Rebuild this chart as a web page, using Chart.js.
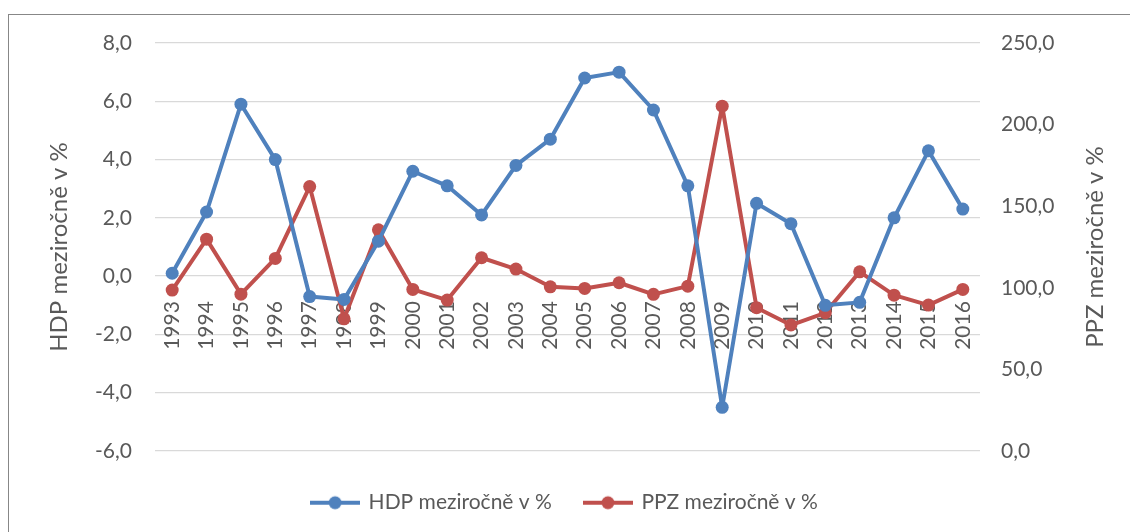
<!DOCTYPE html>
<html>
<head>
<meta charset="utf-8">
<script src="https://cdn.jsdelivr.net/npm/chart.js@4.4.1/dist/chart.umd.min.js"></script>
<style>
  html, body { margin: 0; padding: 0; background: #ffffff; }
  #wrap { position: relative; width: 1130px; height: 532px; overflow: hidden; }
  #frame { position: absolute; left: 8px; top: 14px; width: 1200px; height: 600px; border: 1.5px solid #878787; box-sizing: border-box; }
  #c { position: absolute; left: 0; top: 0; }
</style>
</head>
<body>
<div id="wrap">
  <div id="frame"></div>
  <canvas id="c" width="1130" height="532"></canvas>
</div>
<script>
const years = ['1993','1994','1995','1996','1997','1998','1999','2000','2001','2002','2003','2004','2005','2006','2007','2008','2009','2010','2011','2012','2013','2014','2015','2016'];
const hdpValues = [0.1, 2.2, 5.9, 4.0, -0.7, -0.8, 1.2, 3.6, 3.1, 2.1, 3.8, 4.7, 6.8, 7.0, 5.7, 3.1, -4.5, 2.5, 1.8, -1.0, -0.9, 2.0, 4.3, 2.3];
const ppzValues = [98.6, 129.8, 96.1, 118.0, 162.0, 81.0, 135.5, 99.0, 92.5, 118.4, 111.5, 100.6, 99.6, 103.1, 96.0, 101.0, 211.3, 87.8, 77.2, 84.7, 109.8, 95.5, 89.4, 99.0];
const leftTickLabels = ['-6,0', '-4,0', '-2,0', '0,0', '2,0', '4,0', '6,0', '8,0'];
const rightTickLabels = ['0,0', '50,0', '100,0', '150,0', '200,0', '250,0'];
const seriesNames = ['HDP meziročně v %', 'PPZ meziročně v %'];
const leftTitle = 'HDP meziročně v %';
const rightTitle = 'PPZ meziročně v %';

const BLUE = '#4F81BD';
const RED = '#C0504D';
const TXT = '#595959';
const FONT = 'Lato, "Open Sans", sans-serif';

function markerCanvas(color) {
  const cv = document.createElement('canvas');
  cv.width = 50; cv.height = 16;
  const g = cv.getContext('2d');
  g.strokeStyle = color; g.lineWidth = 4;
  g.beginPath(); g.moveTo(0, 8); g.lineTo(50, 8); g.stroke();
  g.fillStyle = color;
  g.beginPath(); g.arc(25, 8, 6.5, 0, Math.PI * 2); g.fill();
  return cv;
}
const markers = [markerCanvas(BLUE), markerCanvas(RED)];

const titlesPlugin = {
  id: 'axisTitles',
  beforeLayout(chart) {
    const lg = chart.legend;
    if (lg && !lg._patchedFit) {
      const f = lg.fit;
      lg.fit = function () { f.call(this); this.height = 81; };
      lg._patchedFit = true;
    }
  },
  afterDraw(chart) {
    const ctx = chart.ctx;
    const ca = chart.chartArea;
    const cy = (ca.top + ca.bottom) / 2;
    ctx.save();
    ctx.fillStyle = TXT;
    ctx.font = '24px ' + FONT;
    ctx.textAlign = 'center';
    ctx.textBaseline = 'middle';
    [[59, leftTitle], [1095, rightTitle]].forEach(([x, t]) => {
      ctx.save();
      ctx.translate(x, cy);
      ctx.rotate(-Math.PI / 2);
      ctx.fillText(t, 0, 0);
      ctx.restore();
    });
    ctx.restore();
  }
};

new Chart(document.getElementById('c'), {
  type: 'line',
  data: {
    labels: years,
    datasets: [
      {
        label: seriesNames[0], data: hdpValues, yAxisID: 'y',
        borderColor: BLUE, backgroundColor: BLUE, borderWidth: 4,
        pointRadius: 6.5, pointHoverRadius: 6.5, pointBorderWidth: 0,
        pointBackgroundColor: BLUE, tension: 0, borderJoinStyle: 'round', borderCapStyle: 'round'
      },
      {
        label: seriesNames[1], data: ppzValues, yAxisID: 'y1',
        borderColor: RED, backgroundColor: RED, borderWidth: 4,
        pointRadius: 6.5, pointHoverRadius: 6.5, pointBorderWidth: 0,
        pointBackgroundColor: RED, tension: 0, borderJoinStyle: 'round', borderCapStyle: 'round'
      }
    ]
  },
  options: {
    responsive: false,
    animation: false,
    events: [],
    layout: { padding: { top: 43, bottom: 0, left: 0, right: 0 } },
    scales: {
      x: {
        type: 'category',
        position: { y: 0 },
        offset: true,
        grid: { display: false, drawTicks: false },
        border: { display: false },
        ticks: {
          autoSkip: false, minRotation: 90, maxRotation: 90, padding: 25,
          color: TXT, font: { family: FONT, size: 21 }
        }
      },
      y: {
        type: 'linear', position: 'left',
        min: -6, max: 8,
        afterFit(s) { s.width = 155; },
        grid: { color: '#d9d9d9', lineWidth: 1.3, drawTicks: false },
        border: { display: false },
        ticks: {
          stepSize: 2, padding: 23, color: TXT, font: { family: FONT, size: 21 },
          callback: (v, i) => leftTickLabels[i]
        }
      },
      y1: {
        type: 'linear', position: 'right',
        min: 0, max: 250,
        afterFit(s) { s.width = 150; },
        grid: { display: false, drawTicks: false },
        border: { display: false },
        ticks: {
          stepSize: 50, padding: 21, color: TXT, font: { family: FONT, size: 21 },
          callback: (v, i) => rightTickLabels[i]
        }
      }
    },
    plugins: {
      tooltip: { enabled: false },
      legend: {
        position: 'bottom',
        title: { display: true, text: '', font: { size: 1 }, padding: { top: 0, bottom: 7 } },
        labels: {
          usePointStyle: true,
          pointStyleWidth: 46,
          padding: 33,
          color: TXT,
          font: { family: FONT, size: 21 },
          generateLabels(chart) {
            const items = Chart.defaults.plugins.legend.labels.generateLabels(chart);
            items.forEach((it, i) => { it.pointStyle = markers[i]; it.fontColor = TXT; });
            return items;
          }
        }
      }
    }
  },
  plugins: [titlesPlugin]
});
</script>
</body>
</html>
